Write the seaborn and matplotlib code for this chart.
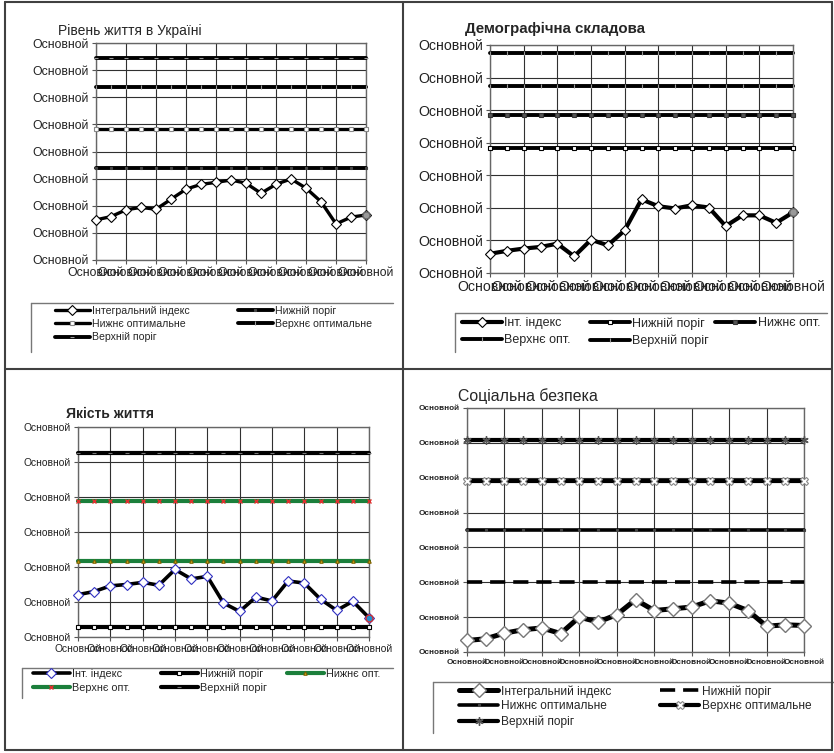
import numpy as np
import matplotlib
matplotlib.use("Agg")
import matplotlib.pyplot as plt
from matplotlib.lines import Line2D
import seaborn as sns

W, H = 834, 753
axis_text = "Основной"

# --- data ---
p1_title = "Рівень життя в Україні"
p1_index = [1.48, 1.60, 1.85, 1.94, 1.87, 2.24, 2.61, 2.79, 2.86, 2.95,
            2.83, 2.46, 2.79, 2.99, 2.65, 2.15, 1.33, 1.58, 1.66]
p1_levels = [3.41, 4.82, 6.36, 7.45]
p1_labels = ["Інтегральний індекс", "Нижній поріг", "Нижнє оптимальне",
             "Верхнє оптимальне", "Верхній поріг"]

p2_title = "Демографічна складова"
p2_index = [0.59, 0.68, 0.75, 0.80, 0.90, 0.51, 1.02, 0.85, 1.31, 2.26,
            2.05, 1.98, 2.08, 2.01, 1.44, 1.77, 1.77, 1.54, 1.86]
p2_levels = [3.85, 4.85, 5.74, 6.76]
p2_labels = ["Інт. індекс", "Нижній поріг", "Нижнє опт.", "Верхнє опт.", "Верхній поріг"]

p3_title = "Якість життя"
p3_index = [1.21, 1.30, 1.46, 1.50, 1.56, 1.48, 1.93, 1.66, 1.73, 0.97,
            0.73, 1.14, 1.03, 1.60, 1.54, 1.08, 0.76, 1.02, 0.55]
p3_levels = [0.29, 2.16, 3.89, 5.26]
p3_labels = ["Інт. індекс", "Нижній поріг", "Нижнє опт.", "Верхнє опт.", "Верхній поріг"]

p4_title = "Соціальна безпека"
p4_index = [0.33, 0.38, 0.54, 0.64, 0.69, 0.53, 1.00, 0.86, 1.07, 1.50,
            1.19, 1.24, 1.29, 1.47, 1.40, 1.19, 0.74, 0.78, 0.76]
p4_levels = [2.01, 3.49, 4.91, 6.07]
p4_labels = ["Інтегральний індекс", "Нижній поріг", "Нижнє оптимальне",
             "Верхнє оптимальне", "Верхній поріг"]

sns.set_style("white")
plt.rcParams["font.family"] = ["Liberation Sans", "DejaVu Sans"]

fig = plt.figure(figsize=(W / 100, H / 100), dpi=100)


def fx(x):
    return x / W


def fy(y):
    return 1 - y / H


def pline(x1, y1, x2, y2, color="#777777", lw=1.0):
    fig.add_artist(Line2D([fx(x1), fx(x2)], [fy(y1), fy(y2)],
                          transform=fig.transFigure, color=color, lw=lw))


def panel(box, index, levels, labels, styles, ymax, tsize, tbold=False):
    l, t, r, b = box
    ax = fig.add_axes([fx(l), fy(b), (r - l) / W, (b - t) / H])
    x = np.arange(len(index))
    series = [index] + [np.full(len(index), v) for v in levels]
    handles = []
    for y, lab, st in zip(series, labels, styles):
        sns.lineplot(x=x, y=y, ax=ax, label=lab, legend=False, clip_on=False,
                     zorder=3, **st)
        handles.append(ax.lines[-1])
    ax.set_xlim(0, len(index) - 1)
    ax.set_ylim(0, ymax)
    ax.set_xticks(range(0, len(index), 2))
    ax.set_xticklabels([axis_text] * len(ax.get_xticks()))
    ax.set_yticks(range(ymax + 1))
    ax.set_yticklabels([axis_text] * (ymax + 1))
    ax.set_xlabel("")
    ax.set_ylabel("")
    ax.grid(True, color="#303030", lw=0.8)
    ax.set_axisbelow(True)
    ax.tick_params(bottom=True, left=True, length=3, width=0.8, color="#555555",
                   pad=2, labelsize=tsize, labelcolor="#222222")
    if tbold:
        for lb in ax.get_xticklabels() + ax.get_yticklabels():
            lb.set_fontweight("bold")
    for s in ax.spines.values():
        s.set_color("#666666")
        s.set_linewidth(1)
    return ax, handles


def legend(handles, labels, cols, xs, top, size, hl, spacing):
    for col, x in zip(cols, xs):
        fig.legend([handles[i] for i in col], [labels[i] for i in col],
                   loc="upper left", bbox_to_anchor=(fx(x), fy(top)),
                   frameon=False, fontsize=size, handlelength=hl,
                   handletextpad=0.2, borderpad=0, borderaxespad=0,
                   labelspacing=spacing)


def mk(color="black", lw=2.6, marker=None, ms=3, mfc="white", mec="black", mew=0.8, ls="-"):
    d = dict(color=color, linewidth=lw, linestyle=ls, markersize=ms,
             markerfacecolor=mfc, markeredgecolor=mec, markeredgewidth=mew)
    if marker is not None:
        d["marker"] = marker
    return d


# panel 1
s1 = [mk(lw=2.4, marker="D", ms=5),
      mk(lw=2.8, marker="s", ms=2, mfc="#444444", mec="#444444"),
      mk(lw=2.4, marker="s", ms=2.5, mec="#888888"),
      mk(lw=2.8, marker="|", ms=3, mec="#999999"),
      mk(lw=2.8, marker="_", ms=3, mec="#999999")]
ax1, h1 = panel((96, 43, 366, 260), p1_index, p1_levels, p1_labels, s1, 8, 8.8)
ax1.plot(len(p1_index) - 1, p1_index[-1], "o", ms=5, mfc="#999999", mec="#666666", zorder=5, clip_on=False)
fig.text(fx(58), fy(31), p1_title, fontsize=10, va="center")
legend(h1, p1_labels, [[0, 2, 4], [1, 3]], [55, 238], 306, 7.6, 3.3, 0.3)
pline(31, 303, 393, 303)
pline(31, 303, 31, 352)

# panel 2
s2 = [mk(lw=3, marker="D", ms=5.5),
      mk(lw=2.8, marker="s", ms=3),
      mk(lw=2.8, marker="s", ms=2.5, mfc="#555555", mec="#333333"),
      mk(lw=2.8, marker="|", ms=3, mec="#999999"),
      mk(lw=2.8, marker="|", ms=3, mec="#999999")]
ax2, h2 = panel((490, 45, 793, 273), p2_index, p2_levels, p2_labels, s2, 7, 10.2)
ax2.plot(len(p2_index) - 1, p2_index[-1], "o", ms=5.5, mfc="#999999", mec="#666666", zorder=5, clip_on=False)
fig.text(fx(465), fy(29), p2_title, fontsize=10.8, fontweight="bold", va="center")
legend(h2, p2_labels, [[0, 3], [1, 4], [2]], [462, 590, 715], 317, 9, 3.2, 0.4)
pline(455, 313, 827, 313)
pline(455, 313, 455, 352)

# panel 3
green = "#1b7f3b"
s3 = [mk(lw=2.6, marker="D", ms=5.5, mec="#3030c0"),
      mk(lw=3, marker="s", ms=3),
      mk(color=green, lw=3, marker="^", ms=2.5, mfc="#d8c020", mec="#806000"),
      mk(color=green, lw=3, marker="x", ms=3.5, mec="#e03030", mew=1),
      mk(lw=3, marker="_", ms=3, mec="#777777")]
ax3, h3 = panel((78, 427, 369, 637), p3_index, p3_levels, p3_labels, s3, 6, 7.4)
ax3.plot(len(p3_index) - 1, p3_index[-1], "o", ms=5, mfc="#2090d0", mec="#d03030", zorder=5, clip_on=False)
fig.text(fx(66), fy(414), p3_title, fontsize=10, fontweight="bold", va="center")
legend(h3, p3_labels, [[0, 3], [1, 4], [2]], [33, 161, 287], 669, 7.8, 3.4, 0.35)
pline(22, 668, 393, 668)
pline(22, 668, 22, 698)

# panel 4
s4 = [mk(lw=3.6, marker="D", ms=7, mec="#777777", mew=1),
      mk(lw=2.6, ls=(0, (4.2, 2.2))),
      mk(lw=2.6, marker="s", ms=2, mfc="#444444", mec="#444444"),
      mk(lw=3, marker="X", ms=6, mec="#888888"),
      mk(lw=3, marker=(6, 2, 0), ms=6, mec="#555555", mew=1)]
ax4, h4 = panel((467, 408, 804, 652), p4_index, p4_levels, p4_labels, s4, 7, 5.9, tbold=True)
fig.text(fx(458), fy(396), p4_title, fontsize=11.4, va="center")
legend(h4, p4_labels, [[0, 2, 4], [1, 3]], [459, 660], 685, 8.6, 3.3, 0.25)
pline(433, 682, 834, 682)
pline(433, 682, 433, 733)

# table borders
bc = "#404040"
pline(5, 2, 832, 2, bc, 1.5)
pline(5, 750, 832, 750, bc, 1.5)
pline(5, 2, 5, 750, bc, 1.5)
pline(832, 2, 832, 750, bc, 1.5)
pline(403, 2, 403, 750, bc, 1.5)
pline(5, 369, 832, 369, bc, 1.5)

fig.savefig("out.png", dpi=100)
